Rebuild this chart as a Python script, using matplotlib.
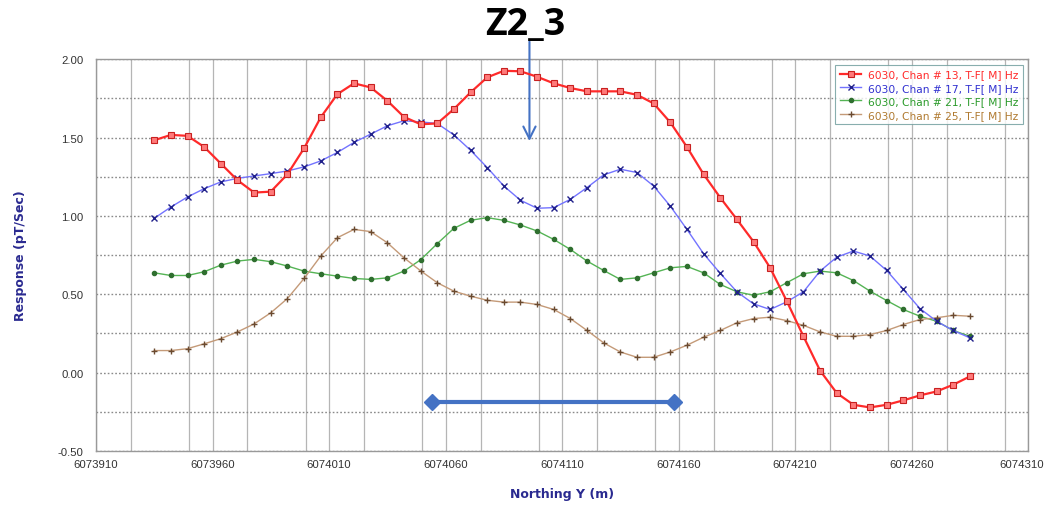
import numpy as np
import matplotlib
matplotlib.use("Agg")
import matplotlib.pyplot as plt
from matplotlib.ticker import MultipleLocator
import matplotlib.transforms as mtransforms

# ---- data ----
x_start = 6073935.0
x_step = 50.0 / 7.0
n_pts = 50
northing = [x_start + i * x_step for i in range(n_pts)]

chan13 = [1.483, 1.517, 1.511, 1.440, 1.334, 1.228, 1.149, 1.155, 1.266, 1.432,
          1.629, 1.777, 1.846, 1.820, 1.735, 1.632, 1.585, 1.590, 1.682, 1.788,
          1.884, 1.926, 1.923, 1.888, 1.846, 1.816, 1.795, 1.795, 1.795, 1.773,
          1.718, 1.597, 1.440, 1.266, 1.117, 0.978, 0.836, 0.669, 0.456, 0.232,
          0.013, -0.130, -0.205, -0.222, -0.205, -0.177, -0.145, -0.120, -0.077, -0.024]
chan17 = [0.985, 1.057, 1.121, 1.174, 1.217, 1.240, 1.255, 1.270, 1.287, 1.313,
          1.351, 1.405, 1.469, 1.522, 1.575, 1.607, 1.600, 1.590, 1.517, 1.419,
          1.309, 1.191, 1.100, 1.049, 1.053, 1.106, 1.181, 1.262, 1.298, 1.277,
          1.191, 1.063, 0.914, 0.759, 0.634, 0.516, 0.439, 0.403, 0.452, 0.516,
          0.648, 0.737, 0.776, 0.744, 0.652, 0.531, 0.409, 0.328, 0.269, 0.222]
chan21 = [0.637, 0.620, 0.620, 0.644, 0.686, 0.712, 0.723, 0.708, 0.680, 0.648,
          0.631, 0.616, 0.601, 0.595, 0.605, 0.648, 0.720, 0.823, 0.921, 0.972,
          0.989, 0.972, 0.942, 0.904, 0.850, 0.786, 0.712, 0.652, 0.595, 0.605,
          0.637, 0.669, 0.678, 0.637, 0.563, 0.516, 0.494, 0.516, 0.574, 0.631,
          0.648, 0.637, 0.588, 0.520, 0.460, 0.403, 0.360, 0.328, 0.269, 0.232]
chan25 = [0.141, 0.141, 0.153, 0.184, 0.217, 0.260, 0.311, 0.382, 0.473, 0.601,
          0.744, 0.861, 0.914, 0.900, 0.829, 0.733, 0.650, 0.574, 0.520, 0.488,
          0.462, 0.450, 0.450, 0.435, 0.403, 0.345, 0.269, 0.190, 0.132, 0.098,
          0.098, 0.132, 0.175, 0.226, 0.269, 0.318, 0.345, 0.354, 0.332, 0.302,
          0.260, 0.232, 0.232, 0.243, 0.269, 0.307, 0.339, 0.350, 0.366, 0.360]
labels = ["6030, Chan # 13, T-F[ M] Hz", "6030, Chan # 17, T-F[ M] Hz",
          "6030, Chan # 21, T-F[ M] Hz", "6030, Chan # 25, T-F[ M] Hz"]
x_ticks = [6073910, 6073960, 6074010, 6074060, 6074110, 6074160, 6074210, 6074260, 6074310]
y_ticks = [-0.5, 0.0, 0.5, 1.0, 1.5, 2.0]
title = "Z2_3"
range_bar = [6074054, 6074158]
range_y = -0.19
arrow_x = 6074096
arrow_tip_y = 1.46

# ---- figure ----
fig = plt.figure(figsize=(10.47, 5.06), dpi=100)
ax = fig.add_axes([0.0917, 0.1067, 0.8903, 0.7743])

ax.plot(northing, chan13, color="#ff2a2a", lw=1.6, marker="s", ms=4.2,
        mfc="#ff7a7a", mec="#c82020", mew=0.8, label=labels[0], zorder=5)
ax.plot(northing, chan17, color="#7373ff", lw=1.0, marker="x", ms=4,
        mec="#20208a", mew=1.0, label=labels[1], zorder=4)
ax.plot(northing, chan21, color="#55b455", lw=1.0, marker="o", ms=3,
        mfc="#2f6f2f", mec="#2f6f2f", label=labels[2], zorder=3)
ax.plot(northing, chan25, color="#c49a78", lw=1.0, marker="+", ms=5,
        mec="#6a4a30", mew=1.0, label=labels[3], zorder=3)

ax.set_xlim(6073910, 6074310)
ax.set_ylim(-0.5, 2.0)
ax.set_xticks(x_ticks)
ax.set_xticklabels([str(v) for v in x_ticks], family="Liberation Sans", fontsize=8.2)
ax.set_yticks(y_ticks)
ax.set_yticklabels([f"{v:.2f}" for v in y_ticks], family="Liberation Sans", fontsize=8.2)
ax.xaxis.set_minor_locator(MultipleLocator(25))
ax.yaxis.set_minor_locator(MultipleLocator(0.25))
ax.tick_params(axis="both", which="both", length=0, colors="#333333")
ax.tick_params(axis="x", pad=6)
ax.tick_params(axis="y", pad=9)
# nudge the last x label slightly left so it stays inside the canvas
last = ax.get_xticklabels()[-1]
last.set_transform(last.get_transform() + mtransforms.ScaledTranslation(-5 / 72, 0, fig.dpi_scale_trans))

ax.grid(True, which="both", axis="x", color="#b5b5b5", lw=0.9, ls="-")
ax.grid(True, which="both", axis="y", color="#8a8a8a", lw=1.0, ls=(0, (1.2, 1.5)))
ax.set_axisbelow(True)
for s in ax.spines.values():
    s.set_color("#999999")
    s.set_linewidth(1.0)

ax.set_xlabel("Northing Y (m)", color="#2a2a90", fontsize=9, fontweight="bold")
ax.set_ylabel("Response (pT/Sec)", color="#2a2a90", fontsize=9, fontweight="bold")
ax.xaxis.set_label_coords(0.5, -0.093)
ax.yaxis.set_label_coords(-0.074, 0.5)

leg = ax.legend(loc="upper right", fontsize=7.7, frameon=True, fancybox=False,
                borderpad=0.45, handlelength=2.0, labelspacing=0.32, borderaxespad=0.5,
                handletextpad=0.6)
leg.get_frame().set_edgecolor("#6a9a9a")
leg.get_frame().set_linewidth(0.8)
for txt, c in zip(leg.get_texts(), ["#ff2a2a", "#3030d0", "#2a9a2a", "#b07a30"]):
    txt.set_color(c)

fig.text(0.502, 1 - 35 / 506, title, ha="center", va="baseline", fontsize=27,
         fontweight="bold", family="Open Sans")

# annotations
ann_color = "#4472c4"
ax.annotate("", xy=(arrow_x, arrow_tip_y), xytext=(arrow_x, 2.13),
            xycoords="data", textcoords="data",
            arrowprops=dict(arrowstyle="->", color=ann_color, lw=1.5,
                            mutation_scale=22), annotation_clip=False)
ax.plot(range_bar, [range_y, range_y], color=ann_color, lw=3.0,
        marker="D", ms=8, clip_on=False, zorder=6)

fig.savefig("out.png", dpi=100)
